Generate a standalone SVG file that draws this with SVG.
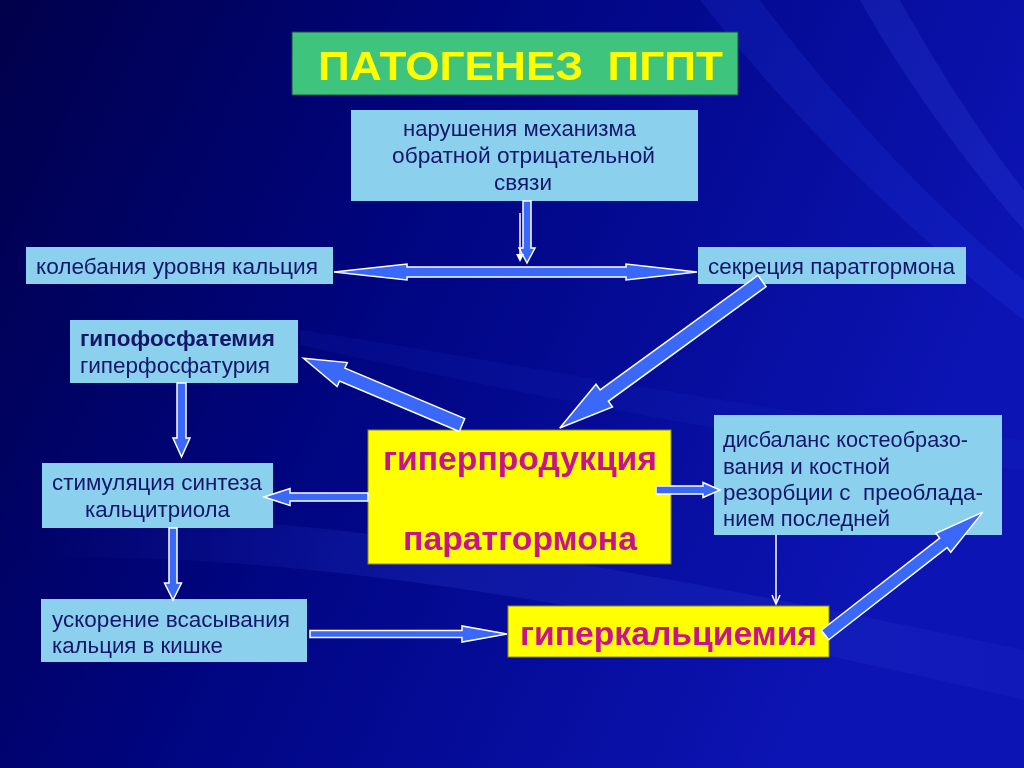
<svg xmlns="http://www.w3.org/2000/svg" width="1024" height="768" viewBox="0 0 1024 768">
<defs>
<linearGradient id="bg" x1="0" y1="0" x2="1" y2="0.35">
<stop offset="0" stop-color="#00004a"/>
<stop offset="0.45" stop-color="#000580"/>
<stop offset="1" stop-color="#0c14b4"/>
</linearGradient>
<linearGradient id="streak" x1="0" y1="0" x2="1" y2="0">
<stop offset="0" stop-color="#4a66ff" stop-opacity="0"/>
<stop offset="0.4" stop-color="#4a66ff" stop-opacity="0.25"/>
<stop offset="1" stop-color="#6a86ff" stop-opacity="0.1"/>
</linearGradient>
<style>
.box{fill:#8bd0ec;}
.yel{fill:#ffff00;stroke:#8a8a20;stroke-width:1;}
.t{font-family:"Liberation Sans",Arial,sans-serif;font-size:22.5px;fill:#15156a;}
.b{font-weight:bold;}
.m{font-family:"Liberation Sans",Arial,sans-serif;font-size:34px;font-weight:bold;fill:#c8148c;}
.arr{fill:#3a68f8;stroke:#ffffff;stroke-width:1.5;stroke-linejoin:miter;}
.thin{stroke:#ffffff;stroke-width:1.5;fill:none;}
</style>
</defs>
<rect width="1024" height="768" fill="url(#bg)"/>
<g id="background-streaks" opacity="0.6">
<path d="M0,520 C250,500 600,560 1024,650 L1024,700 C600,600 250,545 0,560 Z" fill="url(#streak)"/>
<path d="M700,0 L760,0 C850,120 950,220 1024,280 L1024,320 C930,250 800,130 700,0 Z" fill="#3050ff" opacity="0.25"/>
<path d="M860,0 L900,0 C950,90 1000,160 1024,190 L1024,230 C980,180 910,90 860,0 Z" fill="#5070ff" opacity="0.25"/>
<path d="M300,330 C500,360 800,420 1024,440 L1024,470 C800,450 500,390 300,345 Z" fill="#2a40d0" opacity="0.2"/>
</g>
<g id="title">
<rect x="292" y="32" width="446" height="63" fill="#3ec47c" stroke="#1e4a3a" stroke-width="1"/>
<text x="318" y="80" font-family="Liberation Sans,Arial,sans-serif" font-size="41" font-weight="bold" fill="#ffff00" style="white-space:pre" textLength="405" lengthAdjust="spacingAndGlyphs">ПАТОГЕНЕЗ  ПГПТ</text>
</g>
<g id="n-feedback">
<rect class="box" x="351" y="110" width="347" height="91"/>
<text class="t" x="403" y="136" textLength="233" lengthAdjust="spacingAndGlyphs">нарушения механизма</text>
<text class="t" x="392" y="163" textLength="263" lengthAdjust="spacingAndGlyphs">обратной отрицательной</text>
<text class="t" x="523" y="190" text-anchor="middle">связи</text>
</g>
<g id="n-calcium-fluct">
<rect class="box" x="26" y="247" width="307" height="37"/>
<text class="t" x="36" y="274" textLength="282" lengthAdjust="spacingAndGlyphs">колебания уровня кальция</text>
</g>
<g id="n-pth-secretion">
<rect class="box" x="698" y="247" width="268" height="37"/>
<text class="t" x="708" y="274" textLength="247" lengthAdjust="spacingAndGlyphs">секреция паратгормона</text>
</g>
<g id="n-hypophos">
<rect class="box" x="70" y="320" width="228" height="63"/>
<text class="t b" x="80" y="346" textLength="195" lengthAdjust="spacingAndGlyphs">гипофосфатемия</text>
<text class="t" x="80" y="373" textLength="190" lengthAdjust="spacingAndGlyphs">гиперфосфатурия</text>
</g>
<g id="n-calcitriol">
<rect class="box" x="42" y="463" width="231" height="65"/>
<text class="t" x="52" y="490" textLength="210" lengthAdjust="spacingAndGlyphs">стимуляция синтеза</text>
<text class="t" x="85" y="517" textLength="145" lengthAdjust="spacingAndGlyphs">кальцитриола</text>
</g>
<g id="n-absorption">
<rect class="box" x="41" y="599" width="266" height="63"/>
<text class="t" x="52" y="627" textLength="238" lengthAdjust="spacingAndGlyphs">ускорение всасывания</text>
<text class="t" x="52" y="653" textLength="171" lengthAdjust="spacingAndGlyphs">кальция в кишке</text>
</g>
<g id="n-hyperproduction">
<rect class="yel" x="368" y="430" width="303" height="134"/>
<text class="m" x="383" y="470" textLength="274" lengthAdjust="spacingAndGlyphs">гиперпродукция</text>
<text class="m" x="403" y="550" textLength="234" lengthAdjust="spacingAndGlyphs">паратгормона</text>
</g>
<g id="n-imbalance">
<rect class="box" x="714" y="415" width="288" height="120"/>
<text class="t" x="723" y="447" textLength="245" lengthAdjust="spacingAndGlyphs">дисбаланс костеобразо-</text>
<text class="t" x="723" y="474" textLength="167" lengthAdjust="spacingAndGlyphs">вания и костной</text>
<text class="t" x="723" y="500" style="white-space:pre" textLength="260" lengthAdjust="spacingAndGlyphs">резорбции с  преоблада-</text>
<text class="t" x="723" y="526" textLength="167" lengthAdjust="spacingAndGlyphs">нием последней</text>
</g>
<g id="n-hypercalcemia">
<rect class="yel" x="508" y="606" width="321" height="51"/>
<text class="m" x="520" y="645" textLength="297" lengthAdjust="spacingAndGlyphs">гиперкальциемия</text>
</g>
<g id="connectors">
<polygon class="arr" transform="translate(527,201) rotate(90)" points="0,-4 47,-4 47,-8 62,0 47,8 47,4 0,4"/>
<line class="thin" x1="520" y1="213" x2="520" y2="255"/>
<polygon points="516,254 524,254 520,262" fill="#ffffff"/>
<polygon class="arr" points="334,272 407,264 407,267 626,267 626,264 697,272 626,280 626,277 407,277 407,280"/>
<polygon class="arr" transform="translate(762,281) rotate(144)" points="0,-7 195,-7 195,-14 250,0 195,14 195,7 0,7"/>
<polygon class="arr" transform="translate(462,425) rotate(202.85)" points="0,-7 130,-7 130,-13 172,0 130,13 130,7 0,7"/>
<polygon class="arr" transform="translate(181.5,383) rotate(90)" points="0,-4.5 55,-4.5 55,-8.5 74,0 55,8.5 55,4.5 0,4.5"/>
<polygon class="arr" transform="translate(368,497) rotate(180)" points="0,-4 78,-4 78,-8.5 104,0 78,8.5 78,4 0,4"/>
<polygon class="arr" transform="translate(173,528) rotate(90)" points="0,-4 55,-4 55,-8.5 72,0 55,8.5 55,4 0,4"/>
<polygon class="arr" transform="translate(310,634)" points="0,-3.5 152,-3.5 152,-8 197,0 152,8 152,3.5 0,3.5"/>
<polygon class="arr" transform="translate(656,490)" points="0,-4 47,-4 47,-7.5 64,0 47,7.5 47,4 0,4"/>
<line class="thin" x1="776" y1="535" x2="776" y2="604"/>
<polyline class="thin" points="772,595 776,604 780,595"/>
<polygon class="arr" transform="translate(825,635) rotate(-37.9)" points="0,-6 150,-6 150,-12 200,0 150,12 150,6 0,6"/>
</g>
</svg>
